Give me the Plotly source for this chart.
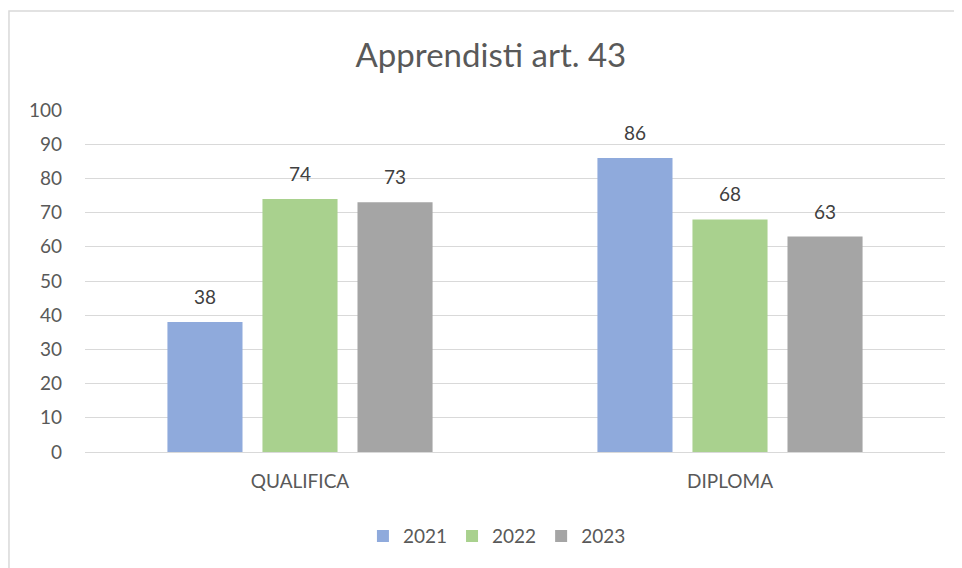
import plotly.graph_objects as go

categories = ["QUALIFICA", "DIPLOMA"]
years = ["2021", "2022", "2023"]
values_2021 = [38, 86]
values_2022 = [74, 68]
values_2023 = [73, 63]
colors = ["#8FAADC", "#A9D18E", "#A5A5A5"]

FONT = "Lato, 'Open Sans', sans-serif"
SLOT_PX = 95  # pixel width of one bar slot inside a group

fig = go.Figure()
series = [values_2021, values_2022, values_2023]
for i, (year, vals, col) in enumerate(zip(years, series, colors)):
    fig.add_trace(go.Bar(
        x=categories, y=vals, name=year,
        marker=dict(color=col, line=dict(width=0)),
    ))
    # value labels, floated a bit above the bar like Excel
    for cat, v in zip(categories, vals):
        fig.add_annotation(x=cat, y=v, text=str(v), showarrow=False,
                           xshift=(i - 1) * SLOT_PX, yshift=12, yanchor="bottom",
                           font=dict(size=19, color="#404040", family=FONT))

# outer chart border (Excel-style)
fig.add_shape(type="rect", xref="paper", yref="paper",
              x0=-0.0884, x1=1.1, y0=-0.5, y1=1.2895,
              line=dict(color="#D9D9D9", width=1.5), fillcolor="rgba(0,0,0,0)",
              layer="below")

fig.update_layout(
    width=962, height=568,
    margin=dict(l=77, r=25, t=102, b=124),
    paper_bgcolor="white", plot_bgcolor="white",
    font=dict(family=FONT, color="#595959", size=19),
    title=dict(text="Apprendisti art. 43", x=0.502, xanchor="center",
               y=0.917, yanchor="middle",
               font=dict(size=33, color="#595959", family=FONT)),
    barmode="group", bargap=0.337, bargroupgap=0.21,
    showlegend=True,
    legend=dict(orientation="h", x=0.479, xanchor="center", y=-0.246, yanchor="middle",
                font=dict(size=19, color="#595959"), traceorder="normal"),
)
fig.update_yaxes(range=[0, 100], dtick=10, showgrid=True, gridcolor="#D9D9D9",
                 gridwidth=1, zeroline=False, showline=False,
                 ticks="", ticklabelstandoff=22, tickfont=dict(size=19))
fig.update_xaxes(showline=True, linecolor="#D9D9D9", linewidth=1, ticks="",
                 tickfont=dict(size=19), ticklabelstandoff=12)

fig.write_html("out.html")
